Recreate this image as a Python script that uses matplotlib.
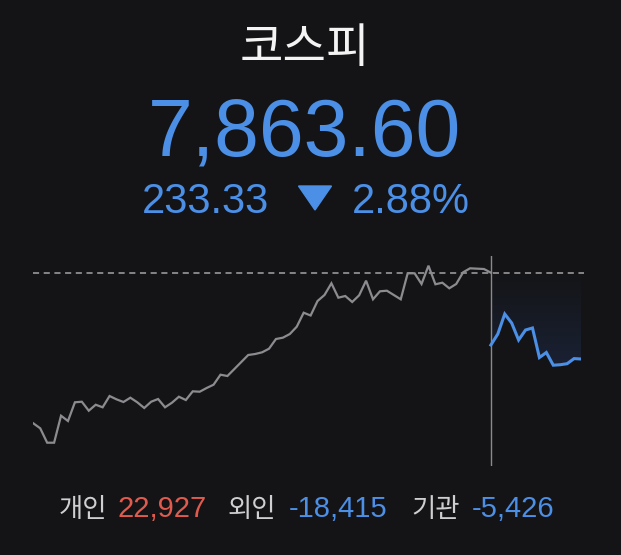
import numpy as np
import matplotlib
matplotlib.use("Agg")
import matplotlib.pyplot as plt
from matplotlib.patches import Polygon
from matplotlib.colors import LinearSegmentedColormap

# KOSPI intraday-style snapshot
title = "코스피"
price = "7,863.60"
change = "233.33"
change_pct = "2.88%"
prev_close = 8096.93

# previous session (gray) and today's session (blue)
prev_values = [
    7688.5, 7674.9, 7635.7, 7635.7, 7709.2, 7694.8, 7745.7, 7747.3, 7722.8, 7739.1,
    7732.1, 7762.8, 7753.8, 7746.5, 7758.2, 7745.7, 7730.2, 7747.3, 7754.7, 7732.1,
    7744.6, 7760.9, 7751.9, 7775.6, 7774.5, 7784.6, 7793.6, 7820.8, 7817.3, 7836.3,
    7855.4, 7874.5, 7877.2, 7881.8, 7891.6, 7918.0, 7921.6, 7931.6, 7951.5, 7989.6,
    7982.0, 8021.5, 8037.8, 8069.7, 8030.5, 8035.1, 8018.8, 8037.0, 8076.8, 8026.1,
    8047.9, 8049.5, 8037.8, 8026.1, 8096.9, 8096.9, 8067.8, 8117.6, 8067.0, 8071.3,
    8056.1, 8067.8, 8099.7, 8110.5, 8109.5, 8108.6, 8098.6,
]
today_values = [
    7901.7, 7931.6, 7986.1, 7961.6, 7915.3, 7942.5, 7948.0, 7867.6, 7881.3, 7846.7,
    7848.0, 7850.8, 7864.7, 7863.6,
]

investor_labels = ["개인", "외인", "기관"]
investor_values = ["22,927", "-18,415", "-5,426"]

BG = "#141416"
BLUE = "#4b8fe6"
RED = "#e05a4d"
W, H = 621, 555


def fx(x):
    return x / W


def fy(y):
    return 1 - y / H


fig = plt.figure(figsize=(W / 100, H / 100), dpi=100, facecolor=BG)

# header texts
fig.text(fx(305), fy(62), title, ha="center", va="baseline", color="#f4f4f4",
         fontsize=34, family=["Noto Sans CJK KR", "DejaVu Sans"], weight="light")
fig.text(fx(305), fy(155), price, ha="center", va="baseline", color=BLUE,
         fontsize=58, family=["Liberation Sans", "DejaVu Sans"])
fig.text(fx(141.7), fy(213), change, ha="left", va="baseline", color=BLUE,
         fontsize=30, family=["Liberation Sans", "DejaVu Sans"])
fig.text(fx(351.7), fy(213), change_pct, ha="left", va="baseline", color=BLUE,
         fontsize=30, family=["Liberation Sans", "DejaVu Sans"])
tri = Polygon([[fx(298.5), fy(186)], [fx(331.5), fy(186)], [fx(315), fy(210)]],
              closed=True, transform=fig.transFigure, color=BLUE)
fig.patches.append(tri)

# chart
ax = fig.add_axes([fx(33.3), fy(465.7), (581 - 33.3) / W, (465.7 - 256) / H])
ax.set_facecolor(BG)
ax.patch.set_alpha(0)
for s in ax.spines.values():
    s.set_visible(False)
ax.set_xticks([])
ax.set_yticks([])

n_prev = len(prev_values)
x_prev = np.arange(n_prev)
x_today = np.arange(n_prev - 1, n_prev - 1 + len(today_values))

ax.set_xlim(0, x_today[-1])
ax.set_ylim(7573.1, 8144.0)

ax.axhline(prev_close, color="#a4a4a6", lw=1.1, dashes=(4, 3), zorder=2,
           xmax=1.005, clip_on=False)
ax.axvline(x_today[0], color="#8a8a8c", lw=1.0, zorder=3)

# soft gradient between today's line and the previous close
poly = ax.fill_between(x_today, today_values, prev_close, color="none", lw=0)
cmap = LinearSegmentedColormap.from_list(
    "g", [(0.23, 0.42, 0.85, 0.15), (0.23, 0.42, 0.85, 0.01)])
grad = np.linspace(0, 1, 200).reshape(-1, 1)
im = ax.imshow(grad, cmap=cmap, aspect="auto", origin="lower",
               extent=[x_today[0], x_today[-1], min(today_values), prev_close],
               zorder=1)
im.set_clip_path(poly.get_paths()[0], transform=ax.transData)

ax.plot(x_prev, prev_values, color="#8c8c90", lw=1.6, zorder=4,
        solid_joinstyle="miter")
ax.plot(x_today, today_values, color=BLUE, lw=2.2, zorder=5,
        solid_joinstyle="miter")

# investor flows
kr = ["Noto Sans CJK KR", "DejaVu Sans"]
num = ["Liberation Sans", "DejaVu Sans"]
label_x = [58.3, 228, 411.7]
value_x = [117.3, 288.3, 471.7]
value_colors = [RED, BLUE, BLUE]
for lab, val, lx, vx, c in zip(investor_labels, investor_values, label_x,
                               value_x, value_colors):
    fig.text(fx(lx), fy(516.7), lab, ha="left", va="baseline", color="#cfcfd1",
             fontsize=19, family=kr, weight="light")
    fig.text(fx(vx), fy(516.7), val, ha="left", va="baseline", color=c,
             fontsize=21, family=num)

fig.savefig("out.png", dpi=100, facecolor=BG)
